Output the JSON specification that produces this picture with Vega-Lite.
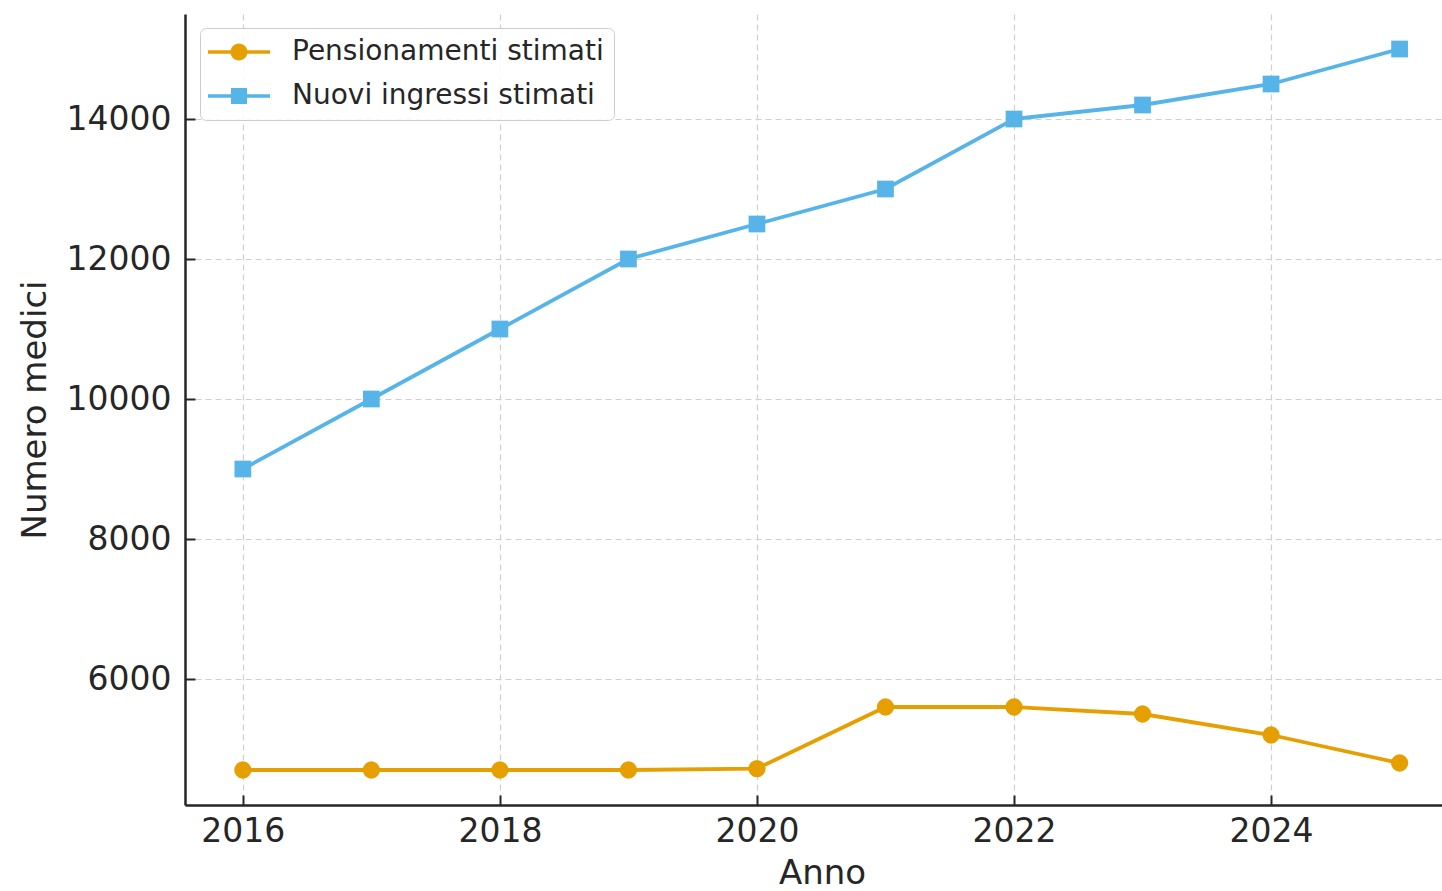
{
  "$schema": "https://vega.github.io/schema/vega-lite/v6.json",
  "width": 1257,
  "height": 791,
  "autosize": "none",
  "padding": {"left": 185, "top": 14, "right": 0, "bottom": 86},
  "background": "white",
  "config": {
    "font": "DejaVu Sans",
    "view": {"stroke": null},
    "axis": {
      "labelFont": "DejaVu Sans",
      "labelFontSize": 33,
      "labelColor": "#262626",
      "titleFont": "DejaVu Sans",
      "titleFontSize": 34,
      "titleFontWeight": "normal",
      "titleColor": "#262626",
      "domainColor": "#262626",
      "domainWidth": 2.5,
      "tickColor": "#262626",
      "tickWidth": 2,
      "tickSize": -10,
      "grid": true,
      "gridColor": "#cfcfcf",
      "gridDash": [6, 4],
      "gridWidth": 1.2
    }
  },
  "data": {
    "values": [
      {"anno": 2016, "serie": "Pensionamenti stimati", "valore": 4700},
      {"anno": 2017, "serie": "Pensionamenti stimati", "valore": 4700},
      {"anno": 2018, "serie": "Pensionamenti stimati", "valore": 4700},
      {"anno": 2019, "serie": "Pensionamenti stimati", "valore": 4700},
      {"anno": 2020, "serie": "Pensionamenti stimati", "valore": 4720},
      {"anno": 2021, "serie": "Pensionamenti stimati", "valore": 5600},
      {"anno": 2022, "serie": "Pensionamenti stimati", "valore": 5600},
      {"anno": 2023, "serie": "Pensionamenti stimati", "valore": 5500},
      {"anno": 2024, "serie": "Pensionamenti stimati", "valore": 5200},
      {"anno": 2025, "serie": "Pensionamenti stimati", "valore": 4800},
      {"anno": 2016, "serie": "Nuovi ingressi stimati", "valore": 9000},
      {"anno": 2017, "serie": "Nuovi ingressi stimati", "valore": 10000},
      {"anno": 2018, "serie": "Nuovi ingressi stimati", "valore": 11000},
      {"anno": 2019, "serie": "Nuovi ingressi stimati", "valore": 12000},
      {"anno": 2020, "serie": "Nuovi ingressi stimati", "valore": 12500},
      {"anno": 2021, "serie": "Nuovi ingressi stimati", "valore": 13000},
      {"anno": 2022, "serie": "Nuovi ingressi stimati", "valore": 14000},
      {"anno": 2023, "serie": "Nuovi ingressi stimati", "valore": 14200},
      {"anno": 2024, "serie": "Nuovi ingressi stimati", "valore": 14500},
      {"anno": 2025, "serie": "Nuovi ingressi stimati", "valore": 15000}
    ]
  },
  "encoding": {
    "x": {
      "field": "anno",
      "type": "quantitative",
      "scale": {"domain": [2015.55, 2025.33], "nice": false, "zero": false},
      "axis": {
        "values": [2016, 2018, 2020, 2022, 2024],
        "format": "d",
        "title": "Anno",
        "labelPadding": 20,
        "titlePadding": 8,
        "titleX": 637
      }
    },
    "y": {
      "field": "valore",
      "type": "quantitative",
      "scale": {"domain": [4200, 15500], "nice": false, "zero": false},
      "axis": {
        "values": [6000, 8000, 10000, 12000, 14000],
        "format": "d",
        "title": "Numero medici",
        "labelPadding": 24,
        "titlePadding": 14
      }
    }
  },
  "layer": [
    {
      "mark": {"type": "line", "strokeWidth": 3.8, "clip": true},
      "encoding": {
        "color": {
          "field": "serie",
          "type": "nominal",
          "scale": {
            "domain": ["Pensionamenti stimati", "Nuovi ingressi stimati"],
            "range": ["#E69F00", "#56B4E9"]
          },
          "legend": {
            "title": null,
            "orient": "none",
            "legendX": 15,
            "legendY": 14,
            "padding": 10,
            "fillColor": "rgba(255,255,255,0.85)",
            "strokeColor": "#cccccc",
            "cornerRadius": 6,
            "labelFont": "DejaVu Sans",
            "labelFontSize": 28,
            "labelColor": "#262626",
            "labelLimit": 500,
            "labelOffset": 54,
            "rowPadding": 16,
            "symbolSize": 784,
            "symbolStrokeWidth": 0,
            "symbolOpacity": 1,
            "encode": {
              "symbols": {
                "update": {
                  "shape": {"signal": "datum.value === 'Pensionamenti stimati' ? 'M-1.143,-0.13H3.29V0.13H-1.143Z M0.464,0 A0.607,0.607 0 1,1 1.678,0 A0.607,0.607 0 1,1 0.464,0Z' : 'M-1.143,-0.13H3.29V0.13H-1.143Z M0.5,-0.571H1.642V0.571H0.5Z'"},
                  "fill": {"signal": "datum.value === 'Pensionamenti stimati' ? '#E69F00' : '#56B4E9'"},
                  "strokeWidth": {"value": 0},
                  "opacity": {"value": 1}
                }
              }
            }
          }
        }
      }
    },
    {
      "transform": [{"filter": "datum.serie === 'Pensionamenti stimati'"}],
      "mark": {"type": "point", "shape": "circle", "filled": true, "opacity": 1, "size": 300, "color": "#E69F00", "clip": true}
    },
    {
      "transform": [{"filter": "datum.serie === 'Nuovi ingressi stimati'"}],
      "mark": {"type": "point", "shape": "square", "filled": true, "opacity": 1, "size": 280, "color": "#56B4E9", "clip": true}
    }
  ]
}
